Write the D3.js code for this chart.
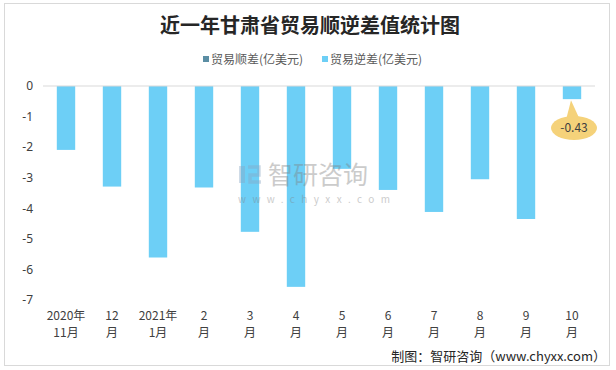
<!DOCTYPE html>
<html>
<head>
<meta charset="utf-8">
<script src="https://cdn.jsdelivr.net/npm/d3@7"></script>
<style>
  body { margin: 0; background: #fff; }
  text { font-family: "Noto Sans CJK SC", "Noto Sans", sans-serif; }
</style>
</head>
<body>
<div id="chart"></div>
<script>
// data
var months = ["2020年|11月", "12|月", "2021年|1月", "2|月", "3|月", "4|月", "5|月", "6|月", "7|月", "8|月", "9|月", "10|月"];
var deficit = [-2.09, -3.29, -5.61, -3.32, -4.77, -6.57, -2.71, -3.40, -4.12, -3.05, -4.35, -0.43];
var yTicks = [0, -1, -2, -3, -4, -5, -6, -7];
var legendNames = ["贸易顺差(亿美元)", "贸易逆差(亿美元)"];

var W = 616, H = 370;
var svg = d3.select("#chart").append("svg")
      .attr("width", W)
      .attr("height", H);

// outer frame
svg.append("rect")
      .attr("x", 4.5).attr("y", 3.5)
      .attr("width", 605).attr("height", 362)
      .attr("fill", "#fff")
      .attr("stroke", "#d9d9d9");

// title
svg.append("text")
      .attr("x", 310).attr("y", 33)
      .attr("text-anchor", "middle")
      .style("font-size", "20px")
      .style("font-weight", "bold")
      .attr("fill", "#262626")
      .text("近一年甘肃省贸易顺逆差值统计图");

// legend
var legendColors = ["#5b8ea4", "#6dcff6"];
var legendX = [203, 322];
legendNames.forEach(function (name, i) {
      svg.append("rect")
            .attr("x", legendX[i]).attr("y", 56)
            .attr("width", 6).attr("height", 6)
            .attr("fill", legendColors[i]);
      svg.append("text")
            .attr("x", legendX[i] + 8).attr("y", 64)
            .style("font-size", "12px")
            .attr("fill", "#595959")
            .text(name);
});

var x = d3.scaleBand()
      .domain(months)
      .range([43, 595])
      .paddingInner(0.6)
      .paddingOuter(0.3);

var y = d3.scaleLinear()
      .domain([-7, 0])
      .range([300, 86]);

// y axis labels only
var yAxis = svg.append("g")
      .attr("transform", "translate(33,0)")
      .call(d3.axisLeft(y).tickValues(yTicks).tickSize(0).tickPadding(0).tickFormat(function (d) { return String(d); }));
yAxis.select(".domain").remove();
yAxis.selectAll("text")
      .style("font-size", "12px")
      .style("font-family", "'Noto Sans', sans-serif")
      .attr("fill", "#404040");

// bars
svg.selectAll(".bar")
      .data(deficit)
      .enter()
      .append("rect")
      .attr("class", "bar")
      .attr("x", function (d, i) { return x(months[i]); })
      .attr("y", y(0))
      .attr("width", x.bandwidth())
      .attr("height", function (d) { return y(d) - y(0); })
      .attr("fill", "#6dcff6");

// zero line
svg.append("line")
      .attr("x1", 43).attr("x2", 595)
      .attr("y1", y(0)).attr("y2", y(0))
      .attr("stroke", "#d9d9d9");

// watermark (drawn over the bars, faint)
var wm = svg.append("g").attr("opacity", 0.4);
wm.append("rect").attr("x", 239).attr("y", 166).attr("width", 6).attr("height", 17).attr("fill", "#8aa6c4");
wm.append("path").attr("d", "M248,167 h11 v8 h-9 v7 h11").attr("fill", "none").attr("stroke", "#8aa6c4").attr("stroke-width", 3.5);
wm.append("text").attr("x", 268).attr("y", 184)
      .style("font-size", "25px").attr("fill", "#808080").text("智研咨询");
wm.append("text").attr("x", 238).attr("y", 203)
      .style("font-size", "10px").style("letter-spacing", "6.4px").attr("fill", "#808080").text("www.chyxx.com");

// x labels (two lines)
var xl = svg.append("g");
months.forEach(function (m) {
      var parts = m.split("|");
      var cx = x(m) + x.bandwidth() / 2;
      parts.forEach(function (p, j) {
            xl.append("text")
                  .attr("x", cx).attr("y", 320 + j * 17)
                  .attr("text-anchor", "middle")
                  .style("font-size", "12px")
                  .attr("fill", "#404040")
                  .text(p);
      });
});

// callout for the last bar
var last = deficit.length - 1;
var lx = x(months[last]) + x.bandwidth() / 2;
var ly = y(deficit[last]);
var cy = 128;
svg.append("path")
      .attr("d", "M" + (lx - 1) + "," + (ly + 1) + " L" + (lx - 6) + "," + (cy - 8) + " L" + (lx + 8) + "," + (cy - 8) + " Z")
      .attr("fill", "#f5d27a");
svg.append("ellipse")
      .attr("cx", lx + 2).attr("cy", cy)
      .attr("rx", 23).attr("ry", 12)
      .attr("fill", "#f5d27a");
svg.append("text")
      .attr("x", lx + 2).attr("y", cy + 4)
      .attr("text-anchor", "middle")
      .style("font-size", "12px")
      .attr("fill", "#404040")
      .text(deficit[last].toFixed(2));

// source
svg.append("text")
      .attr("x", 606).attr("y", 361)
      .attr("text-anchor", "end")
      .style("font-size", "13px")
      .attr("fill", "#262626")
      .text("制图：智研咨询（www.chyxx.com）");
</script>
</body>
</html>
